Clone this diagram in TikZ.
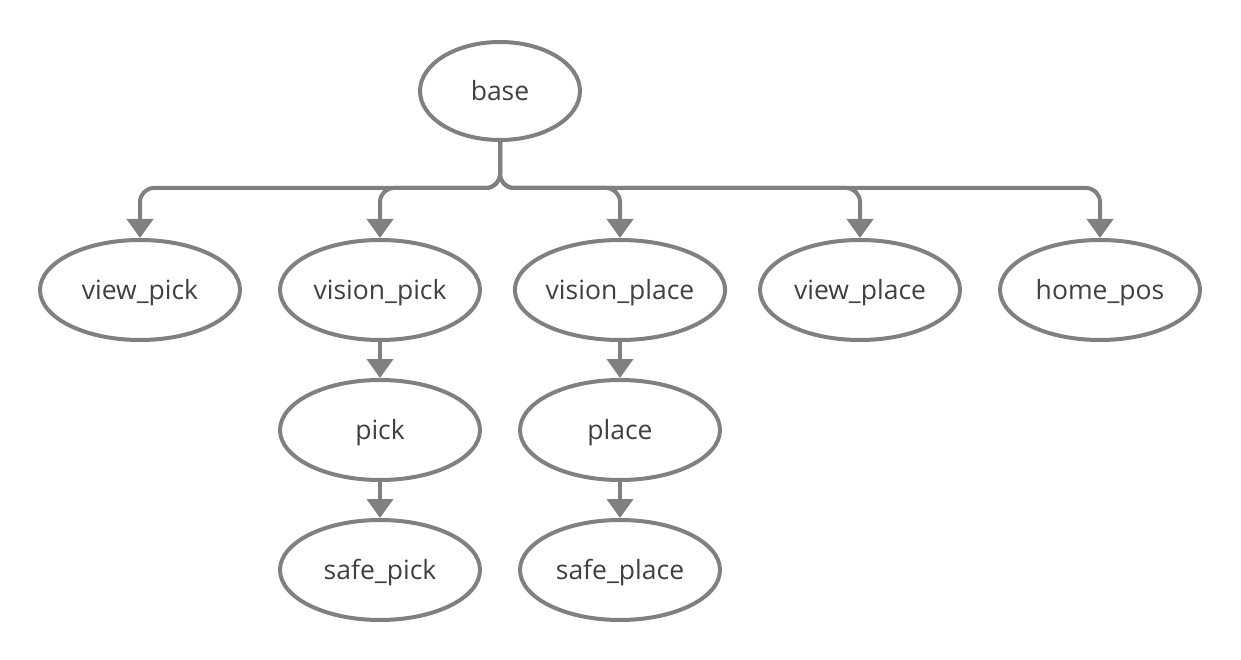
\documentclass[tikz,border=0pt]{standalone}
\usepackage{fontspec}
\setmainfont{Open Sans}
\usetikzlibrary{arrows.meta,shapes.geometric}
\definecolor{linec}{RGB}{128,128,128}
\definecolor{textc}{RGB}{64,64,64}
\begin{document}
\begin{tikzpicture}[x=1pt,y=-1pt,
  state/.style={ellipse,draw=linec,line width=4pt,minimum width=200pt,minimum height=100pt,inner sep=0pt,
    font=\fontsize{26.5}{30}\selectfont,text=textc,text height=19pt,text depth=0pt},
  conn/.style={draw=linec,line width=4pt,rounded corners=14pt,-{Triangle[width=26pt,length=19pt]}}]
\useasboundingbox (0,0) rectangle (1241,660);
\node[state,minimum width=160pt,minimum height=98pt] (base) at (500,91) {base};
\node[state] (vpk) at (140,290) {view\_pick};
\node[state] (vspk) at (380,290) {vision\_pick};
\node[state] (vspl) at (620,290) {vision\_place};
\node[state] (vpl) at (860,290) {view\_place};
\node[state] (home) at (1100,290) {home\_pos};
\node[state] (pick) at (380,430) {pick};
\node[state] (spick) at (380,570) {safe\_pick};
\node[state] (place) at (620,430) {place};
\node[state] (splace) at (620,570) {safe\_place};
\coordinate (j) at (500,188);
\foreach \t in {vpk,vspk,vspl,vpl,home}{
  \draw[conn] (base.south) -- (j) -- (j -| \t.north) -- (\t.north);
}
\draw[conn] (vspk) -- (pick);
\draw[conn] (pick) -- (spick);
\draw[conn] (vspl) -- (place);
\draw[conn] (place) -- (splace);
\end{tikzpicture}
\end{document}
